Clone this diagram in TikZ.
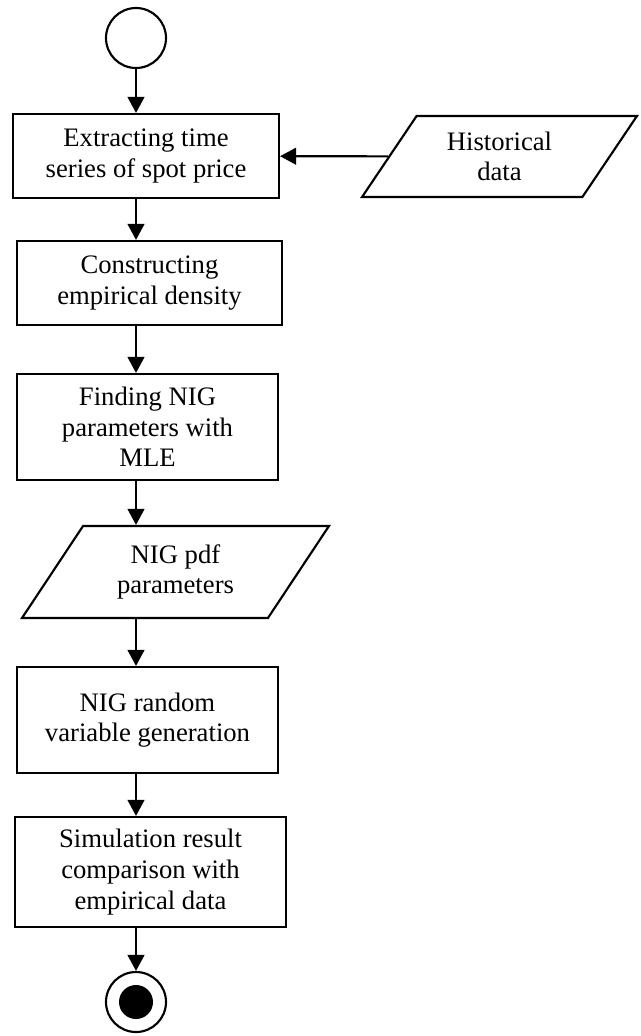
\documentclass[tikz,border=0pt]{standalone}
\usepackage{fontspec}
\setmainfont{Liberation Serif}
\usetikzlibrary{arrows.meta,shapes.geometric}

\begin{document}
\begin{tikzpicture}[x=0.75pt, y=-0.75pt, line width=1.6pt,
  every node/.style={font=\fontsize{20}{23}\selectfont},
  box/.style={draw, rectangle, align=center, inner sep=0pt},
  io/.style={draw, trapezium, trapezium left angle=55, trapezium right angle=125,
    trapezium stretches=true, align=center, inner sep=0pt},
  term/.style={draw, circle, inner sep=0pt, minimum size=45pt},
  arr/.style={-{Triangle[length=12pt,width=12.5pt]}}
]
\useasboundingbox (0,0) rectangle (641,1036);

\node[term] (start) at (136,38) {};
\node[box, minimum width=199.5pt, minimum height=63pt] (extract) at (146,156) {Extracting time\\series of spot price};
\node[io, minimum width=206.25pt, minimum height=60.75pt] (hist) at (499.5,156.5) {Historical\\data};
\node[box, minimum width=198.75pt, minimum height=63pt] (empir) at (149.5,283) {Constructing\\empirical density};
\node[box, minimum width=195.75pt, minimum height=79.5pt] (mle) at (147.5,427) {Finding NIG\\parameters with\\MLE};
\node[io, minimum width=230.25pt, minimum height=69pt] (pdf) at (175.5,572) {NIG pdf\\parameters};
\node[box, minimum width=195.75pt, minimum height=79.5pt] (rvgen) at (147.5,720) {NIG random\\variable generation};
\node[box, minimum width=203.25pt, minimum height=82.5pt] (compare) at (150.5,872) {Simulation result\\comparison with\\empirical data};
\node[term] (stop) at (136,1002) {};
\node[circle, fill=black, inner sep=0pt, minimum size=25.5pt] (stopdot) at (stop) {};

\draw[arr] (start) -- (start |- extract.north);
\draw[arr] (hist) -- (extract);
\draw[arr] (extract.south -| start) -- (empir.north -| start);
\draw[arr] (empir.south -| start) -- (mle.north -| start);
\draw[arr] (mle.south -| start) -- (pdf.north -| start);
\draw[arr] (pdf.south -| start) -- (rvgen.north -| start);
\draw[arr] (rvgen.south -| start) -- (compare.north -| start);
\draw[arr] (compare.south -| start) -- (stop);
\end{tikzpicture}
\end{document}
